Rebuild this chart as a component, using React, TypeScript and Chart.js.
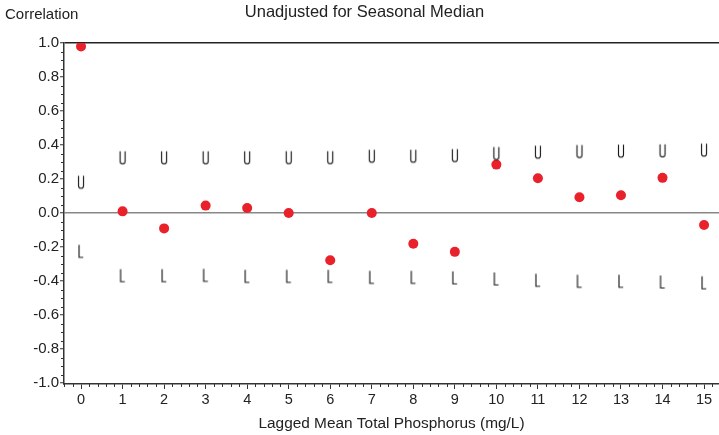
import React, { useEffect, useRef } from "react";
import { Chart, registerables } from "chart.js";

Chart.register(...registerables);

// ---- data ----
const lags = [0, 1, 2, 3, 4, 5, 6, 7, 8, 9, 10, 11, 12, 13, 14, 15];
const correlation = [0.98, 0.01, -0.09, 0.044, 0.03, 0.0, -0.277, 0.0, -0.18, -0.228, 0.285, 0.205, 0.093, 0.105, 0.207, -0.07];
const upperBound = [0.181, 0.325, 0.325, 0.325, 0.325, 0.326, 0.326, 0.334, 0.334, 0.338, 0.35, 0.358, 0.362, 0.364, 0.366, 0.37];
const lowerBound = [-0.225, -0.368, -0.368, -0.366, -0.372, -0.372, -0.372, -0.378, -0.378, -0.381, -0.387, -0.395, -0.401, -0.401, -0.405, -0.41];
const xTickValues = [0, 1, 2, 3, 4, 5, 6, 7, 8, 9, 10, 11, 12, 13, 14, 15];
const yTickValues = [-1.0, -0.8, -0.6, -0.4, -0.2, 0.0, 0.2, 0.4, 0.6, 0.8, 1.0];

const titleText = "Unadjusted for Seasonal Median";
const yAxisLabel = "Correlation";
const xAxisLabel = "Lagged Mean Total Phosphorus (mg/L)";

const FONT = '"Liberation Sans", Arial, sans-serif';

// Plot-symbol markers ("U" and "L") drawn as small strokes
function marker(kind: "U" | "L"): HTMLCanvasElement {
  const c = document.createElement("canvas");
  c.width = 10;
  c.height = 16;
  const g = c.getContext("2d")!;
  g.strokeStyle = "#1a1a1a";
  g.lineWidth = 1.15;
  g.lineCap = "butt";
  g.beginPath();
  if (kind === "U") {
    // 6 wide, 13 tall, centred
    g.moveTo(2.5, 1.5);
    g.lineTo(2.5, 11.5);
    g.arc(5, 11.5, 2.5, Math.PI, 0, true);
    g.lineTo(7.5, 1.5);
  } else {
    g.moveTo(3, 1.5);
    g.lineTo(3, 14);
    g.lineTo(7.2, 14);
  }
  g.stroke();
  return c;
}

const textPlugin = {
  id: "texts",
  afterDraw(chart: any) {
    const ctx = chart.ctx;
    ctx.save();
    ctx.fillStyle = "#222";
    ctx.textBaseline = "alphabetic";
    ctx.font = `16.5px ${FONT}`;
    ctx.textAlign = "center";
    ctx.fillText(titleText, 364.5, 17);
    ctx.font = `15px ${FONT}`;
    ctx.textAlign = "left";
    ctx.fillText(yAxisLabel, 5, 19);
    // minor ticks
    const xs = chart.scales.x;
    const ys = chart.scales.y;
    ctx.strokeStyle = "#333";
    ctx.lineWidth = 1;
    ctx.beginPath();
    for (let i = -2; i <= 77; i++) {
      if (i % 5 === 0) continue;
      const v = i * 0.2;
      if (v < xs.min || v > xs.max) continue;
      const px = Math.round(xs.getPixelForValue(v)) + 0.5;
      ctx.moveTo(px, ys.bottom);
      ctx.lineTo(px, ys.bottom + 3);
    }
    for (let i = -20; i <= 20; i++) {
      if (i % 4 === 0) continue;
      const v = i * 0.05;
      const py = Math.round(ys.getPixelForValue(v)) + 0.5;
      ctx.moveTo(xs.left, py);
      ctx.lineTo(xs.left - 3, py);
    }
    ctx.stroke();
    ctx.restore();
  },
};

export default function App() {
  const ref = useRef<HTMLCanvasElement>(null);
  useEffect(() => {
    const uImg = marker("U");
    const lImg = marker("L");
    const chart = new Chart(ref.current!, {
      type: "scatter",
      data: {
        datasets: [
          {
            data: lags.map((x, i) => ({ x, y: upperBound[i] })),
            pointStyle: uImg as any,
            pointRadius: 6,
          },
          {
            data: lags.map((x, i) => ({ x, y: lowerBound[i] })),
            pointStyle: lImg as any,
            pointRadius: 6,
          },
          {
            data: lags.map((x, i) => ({ x, y: correlation[i] })),
            pointStyle: "circle",
            pointRadius: 5,
            backgroundColor: "#e8212b",
            borderColor: "#e8212b",
            borderWidth: 0,
          },
        ],
      },
      options: {
        animation: false,
        responsive: false,
        devicePixelRatio: 1,
        events: [],
        layout: { autoPadding: false, padding: { top: 43, left: 0, right: 0, bottom: 0 } },
        plugins: {
          legend: { display: false },
          tooltip: { enabled: false },
          title: { display: false },
        },
        scales: {
          x: {
            type: "linear",
            min: -0.41,
            max: 15.36,
            afterBuildTicks: (s: any) => {
              s.ticks = xTickValues.map((v) => ({ value: v }));
            },
            afterFit: (s: any) => {
              s.height = 51;
              s.paddingLeft = 0;
              s.paddingRight = 0;
            },
            border: { color: "#333", width: 1.5 },
            grid: {
              drawOnChartArea: false,
              drawTicks: true,
              tickLength: 5,
              tickColor: "#333",
              tickWidth: 1,
            },
            ticks: {
              padding: 2,
              color: "#222",
              font: { family: FONT, size: 14.5 },
              maxRotation: 0,
              callback: (v: any) => String(v),
            },
            title: {
              display: true,
              text: xAxisLabel,
              color: "#222",
              font: { family: FONT, size: 15.4 },
              padding: { top: 0, bottom: 2 },
            },
          },
          y: {
            type: "linear",
            min: -1.005,
            max: 1.0,
            afterBuildTicks: (s: any) => {
              s.ticks = yTickValues.map((v) => ({ value: v }));
            },
            afterFit: (s: any) => {
              s.width = 64;
              s.paddingTop = 0;
              s.paddingBottom = 0;
            },
            border: { color: "#333", width: 1.5 },
            grid: {
              color: (c: any) =>
                c.tick && Math.abs(c.tick.value) < 1e-9
                  ? "#888"
                  : c.tick && Math.abs(c.tick.value - 1) < 1e-9
                  ? "#222"
                  : "rgba(0,0,0,0)",
              lineWidth: 1.5,
              drawTicks: true,
              tickLength: 4,
              tickColor: "#333",
              tickWidth: 1,
            },
            ticks: {
              padding: 1,
              color: "#222",
              font: { family: FONT, size: 15 },
              callback: (v: any) => Number(v).toFixed(1),
            },
          },
        },
      },
      plugins: [textPlugin],
    });
    return () => chart.destroy();
  }, []);
  return (
    <div style={{ position: "absolute", left: 0, top: 0, width: 719, height: 435 }}>
      <canvas ref={ref} width={719} height={435} />
    </div>
  );
}
